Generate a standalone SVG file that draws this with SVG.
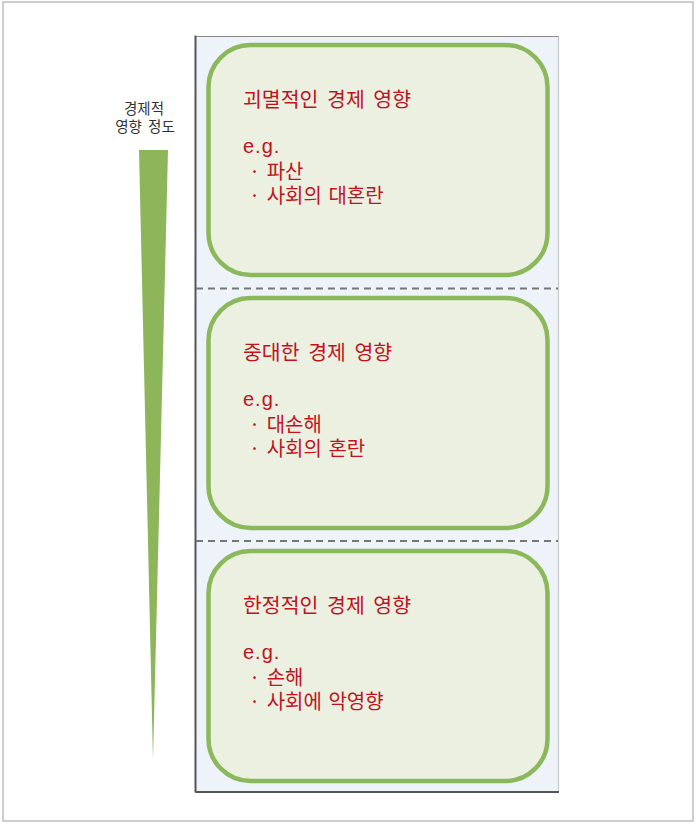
<svg xmlns="http://www.w3.org/2000/svg" width="696" height="824" viewBox="0 0 696 824">
<style>
.box{fill:#ebf0e1;stroke:#8cb85c;stroke-width:4.5}
.t{font-family:"Noto Sans CJK KR","Noto Sans",sans-serif;fill:#c0131e;font-size:20.5px;word-spacing:4px}
.eg{font-family:"Liberation Sans","Noto Sans CJK KR",sans-serif;fill:#c0131e;font-size:20px;letter-spacing:1px}
.b{font-family:"Noto Sans CJK KR","Noto Sans",sans-serif;fill:#c0131e;font-size:20px;word-spacing:2px}
.lab{font-family:"Noto Sans CJK KR","Noto Sans",sans-serif;fill:#333;font-size:14.5px;text-anchor:middle;word-spacing:3px}
.dash{stroke:#777;stroke-width:2;stroke-dasharray:7 5;fill:none}
</style>
<rect x="0" y="0" width="696" height="824" fill="#ffffff"/>
<rect x="3" y="2" width="690" height="819" fill="none" stroke="#bdbdbd" stroke-width="1.5"/>
<g id="scale">
<text class="lab" x="144" y="114">경제적</text>
<text class="lab" x="145" y="132">영향 정도</text>
<polygon points="139,150 168,150 153,760" fill="#8db55a"/>
</g>
<g id="container">
<rect x="195.5" y="36.5" width="363" height="755" fill="#eef3fa"/>
<line x1="195.5" y1="36.5" x2="558.5" y2="36.5" stroke="#8a8a8a" stroke-width="1"/>
<line x1="558.5" y1="36.5" x2="558.5" y2="791.5" stroke="#999" stroke-width="1.2" stroke-dasharray="1 1"/>
<line x1="195.5" y1="35.5" x2="195.5" y2="792.5" stroke="#555" stroke-width="2"/>
<line x1="195.5" y1="792" x2="559" y2="792" stroke="#555" stroke-width="2"/>
</g>
<g id="connectors">
<line class="dash" x1="196" y1="288.5" x2="558" y2="288.5"/>
<line class="dash" x1="196" y1="541" x2="558" y2="541"/>
</g>
<g id="node1">
<rect class="box" x="208.5" y="45" width="339" height="230" rx="42"/>
<text class="t" x="243" y="107">괴멸적인 경제 영향</text>
<text class="eg" x="243" y="153">e.g.</text>
<text class="b" x="249" y="179">· 파산</text>
<text class="b" x="249" y="203">· 사회의 대혼란</text>
</g>
<g id="node2">
<rect class="box" x="208.5" y="298" width="339" height="230" rx="42"/>
<text class="t" x="243" y="360">중대한 경제 영향</text>
<text class="eg" x="243" y="406">e.g.</text>
<text class="b" x="249" y="432">· 대손해</text>
<text class="b" x="249" y="456">· 사회의 혼란</text>
</g>
<g id="node3">
<rect class="box" x="208.5" y="551" width="339" height="230" rx="42"/>
<text class="t" x="243" y="613">한정적인 경제 영향</text>
<text class="eg" x="243" y="659">e.g.</text>
<text class="b" x="249" y="685">· 손해</text>
<text class="b" x="249" y="709">· 사회에 악영향</text>
</g>
</svg>
